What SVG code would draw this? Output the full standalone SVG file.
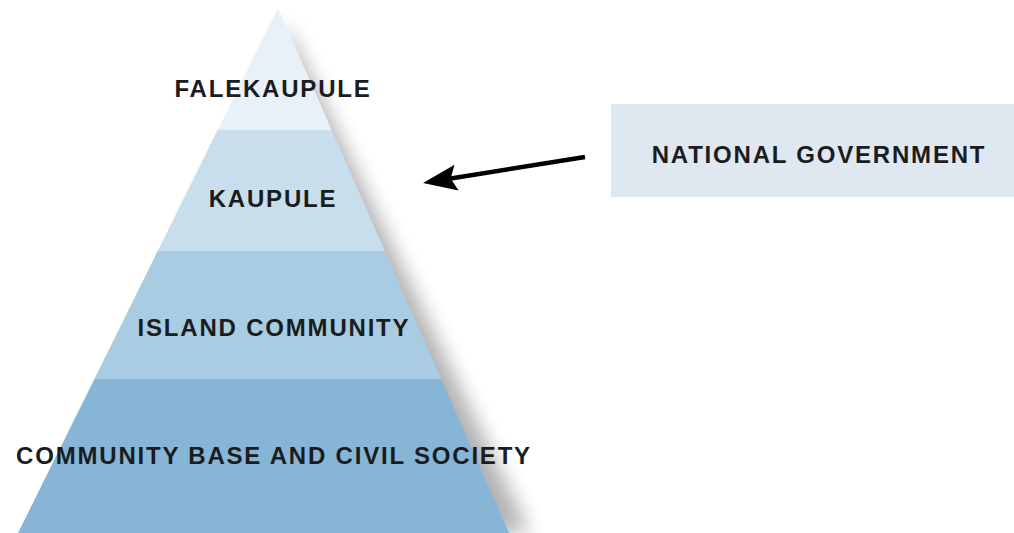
<svg xmlns="http://www.w3.org/2000/svg" width="1014" height="533" viewBox="0 0 1014 533">
  <style>
    .lbl { font-family: "Liberation Sans", Arial, sans-serif; font-weight: bold; font-size: 24px; letter-spacing: 1.8px; fill: #1a1c1e; text-anchor: middle; }
    .conn { stroke: #000; stroke-width: 4.5; fill: none; stroke-linecap: butt; }
  </style>
  <defs>
    <filter id="shadow" x="-30%" y="-20%" width="160%" height="140%">
      <feGaussianBlur stdDeviation="10"/>
    </filter>
    <marker id="arrowhead" markerUnits="userSpaceOnUse" markerWidth="60" markerHeight="40" refX="0" refY="0" orient="auto" overflow="visible">
      <path d="M25,0 L-9,-13 L-3,0 L-9,13 Z" fill="#000"/>
    </marker>
  </defs>
  <rect width="1014" height="533" fill="#ffffff"/>

  <!-- pyramid shadow -->
  <polygon points="284,20 530,533 290,533" fill="#000" opacity="0.3" filter="url(#shadow)"/>

  <g id="layer-falekaupule">
    <polygon points="278,8 331.7,130 217.6,130" fill="#e9f1f8"/>
    <text class="lbl" x="273" y="97">FALEKAUPULE</text>
  </g>
  <g id="layer-kaupule">
    <polygon points="217.6,130 331.7,130 384.9,251 157.7,251" fill="#c9deec"/>
    <text class="lbl" x="273" y="207">KAUPULE</text>
  </g>
  <g id="layer-island-community">
    <polygon points="157.7,251 384.9,251 441.2,379 94.4,379" fill="#a9cce2"/>
    <text class="lbl" x="274" y="336">ISLAND COMMUNITY</text>
  </g>
  <g id="layer-community-base">
    <polygon points="94.4,379 441.2,379 509,533 18,533" fill="#86b5d5"/>
    <text class="lbl" x="274" y="464">COMMUNITY BASE AND CIVIL SOCIETY</text>
  </g>

  <g id="national-government">
    <rect x="611" y="104" width="403" height="93" fill="#dfe8f1"/>
    <text class="lbl" x="819" y="163">NATIONAL GOVERNMENT</text>
  </g>

  <g id="connectors">
    <line class="conn" x1="585" y1="157" x2="447.7" y2="179" marker-end="url(#arrowhead)"/>
  </g>
</svg>
